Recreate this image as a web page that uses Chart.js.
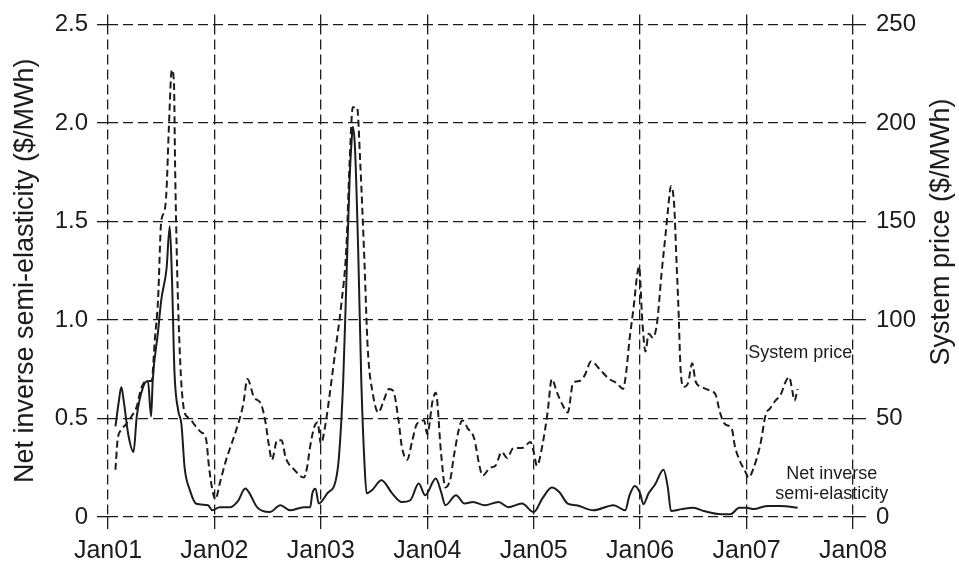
<!DOCTYPE html>
<html>
<head>
<meta charset="utf-8">
<script src="https://cdn.jsdelivr.net/npm/chart.js@4.4.1/dist/chart.umd.min.js"></script>
<style>
  body { margin: 0; background: #fff; }
  #chart { display: block; }
</style>
</head>
<body>
<canvas id="chart" width="959" height="569"></canvas>
<script>
// Tick labels
const yearTicks = [2001, 2002, 2003, 2004, 2005, 2006, 2007, 2008];
const leftTicks = [0, 0.5, 1.0, 1.5, 2.0, 2.5];
const rightTicks = [0, 50, 100, 150, 200, 250];

// System price ($/MWh)
const priceDates = [
    2001.07, 2001.09, 2001.12, 2001.17, 2001.22, 2001.27, 2001.31, 2001.36, 2001.41, 2001.44,
    2001.47, 2001.50, 2001.53, 2001.55, 2001.57, 2001.60, 2001.62, 2001.63, 2001.65, 2001.67,
    2001.69, 2001.72, 2001.77, 2001.81, 2001.875, 2001.92, 2001.95, 2001.98,
    2002.01, 2002.05, 2002.11, 2002.16, 2002.21, 2002.27, 2002.31, 2002.37, 2002.44, 2002.48,
    2002.51, 2002.54, 2002.59, 2002.63, 2002.67, 2002.75, 2002.84, 2002.87, 2002.90, 2002.94, 2002.97,
    2003.00, 2003.04, 2003.08, 2003.14, 2003.19, 2003.24, 2003.27, 2003.30, 2003.34, 2003.37,
    2003.41, 2003.44, 2003.49, 2003.54, 2003.59, 2003.64, 2003.68, 2003.73, 2003.76, 2003.81,
    2003.86, 2003.90, 2003.97,
    2004.00, 2004.05, 2004.08, 2004.13, 2004.17, 2004.22, 2004.25, 2004.33, 2004.38, 2004.44,
    2004.49, 2004.52, 2004.59, 2004.64, 2004.70, 2004.75, 2004.81, 2004.89, 2004.97,
    2005.00, 2005.03, 2005.08, 2005.13, 2005.17, 2005.22, 2005.27, 2005.32, 2005.37, 2005.43,
    2005.48, 2005.54, 2005.62, 2005.71, 2005.78, 2005.84, 2005.87, 2005.90, 2005.94, 2005.97, 2005.99,
    2006.02, 2006.05, 2006.08, 2006.12, 2006.16, 2006.20, 2006.24, 2006.26, 2006.29, 2006.32,
    2006.34, 2006.36, 2006.38, 2006.41, 2006.45, 2006.49, 2006.52, 2006.58, 2006.66, 2006.71,
    2006.75, 2006.80, 2006.86, 2006.89, 2006.94, 2006.98,
    2007.02, 2007.06, 2007.13, 2007.18, 2007.22, 2007.27, 2007.32, 2007.37, 2007.40, 2007.43,
    2007.45, 2007.48
];
const priceValues = [
    24, 39, 44, 47, 51, 56, 65, 69, 69, 90,
    110, 150, 155, 166, 195, 227, 220, 180, 125, 90,
    67, 53, 50, 47, 43, 40, 25, 14,
    9, 17, 29, 37, 45, 57, 70, 61, 57, 48,
    37, 29, 39, 39, 30, 24, 20, 25, 36, 46, 48,
    37, 46, 61, 86, 107, 137, 180, 208, 208, 180,
    129, 86, 62, 53, 59, 65, 64, 49, 36, 29,
    39, 47, 49,
    42, 59, 63, 32, 15, 20, 31, 49, 45, 40,
    26, 21, 25, 26, 33, 30, 35, 35, 38,
    33, 26, 36, 53, 70, 63, 57, 53, 68, 69,
    72, 79, 75, 70, 68, 65, 74, 90, 107, 122, 127,
    100, 84, 93, 91, 99, 123, 144, 155, 168, 158,
    132, 106, 75, 66, 68, 78, 69, 66, 64, 62,
    53, 47, 45, 36, 28, 24,
    20, 24, 37, 52, 55, 59, 62, 69, 71, 64,
    59, 65
];

// Net inverse semi-elasticity ($/MWh), solid curve
const elastDates = [
    2001.07, 2001.10, 2001.125, 2001.15, 2001.19, 2001.24, 2001.27, 2001.33, 2001.375, 2001.405,
    2001.42, 2001.47, 2001.50, 2001.55, 2001.58, 2001.60, 2001.625, 2001.66, 2001.69, 2001.72,
    2001.77, 2001.83, 2001.94, 2001.98,
    2002.05, 2002.15, 2002.22, 2002.29, 2002.33, 2002.40, 2002.52, 2002.62, 2002.71, 2002.84,
    2002.90, 2002.92, 2002.95, 2002.98,
    2003.06, 2003.14, 2003.17, 2003.21, 2003.24, 2003.27, 2003.29, 2003.30, 2003.32, 2003.35,
    2003.38, 2003.41, 2003.43, 2003.48, 2003.57, 2003.67, 2003.76, 2003.84, 2003.92, 2003.98,
    2004.08, 2004.13, 2004.17, 2004.27, 2004.35, 2004.43, 2004.54, 2004.67, 2004.76, 2004.89,
    2005.00, 2005.08, 2005.17, 2005.24, 2005.32, 2005.40, 2005.56, 2005.75, 2005.86, 2005.90, 2005.95,
    2006.00, 2006.03, 2006.08, 2006.14, 2006.22, 2006.26, 2006.29, 2006.39, 2006.50, 2006.60,
    2006.76, 2006.85, 2006.93,
    2007.00, 2007.07, 2007.19, 2007.32, 2007.48
];
const elastValues = [
    0.46, 0.58, 0.66, 0.58, 0.42, 0.33, 0.51, 0.66, 0.69, 0.51,
    0.69, 0.94, 1.10, 1.26, 1.475, 1.23, 0.73, 0.54, 0.47, 0.25,
    0.135, 0.067, 0.06, 0.034,
    0.05, 0.05, 0.08, 0.145, 0.12, 0.05, 0.025, 0.06, 0.034, 0.05,
    0.05, 0.12, 0.144, 0.068,
    0.12, 0.186, 0.305, 0.69, 1.20, 1.71, 1.92, 1.98, 1.88, 1.37,
    0.69, 0.27, 0.12, 0.136, 0.186, 0.12, 0.076, 0.085, 0.17, 0.11,
    0.195, 0.127, 0.06, 0.11, 0.068, 0.076, 0.06, 0.076, 0.05, 0.068,
    0.025, 0.093, 0.15, 0.127, 0.068, 0.06, 0.034, 0.06, 0.034, 0.11, 0.157,
    0.12, 0.065, 0.12, 0.165, 0.24, 0.15, 0.03, 0.04, 0.047, 0.03,
    0.014, 0.014, 0.047,
    0.047, 0.04, 0.056, 0.056, 0.047
];

const FONT = '"Liberation Sans", Arial, Helvetica, sans-serif';
const INK = '#1c1c1c';
const GRID_DASH = [10, 5];

function toPoints(xs, ys) {
    return xs.map((x, i) => ({ x: x, y: ys[i] }));
}

// texte libre : titre de droite (lu de bas en haut) et étiquettes des courbes
const textPlugin = {
    id: 'freeText',
    afterDraw(chart) {
        const ctx = chart.ctx;
        const x = chart.scales.x, y2 = chart.scales.y2;
        ctx.save();
        ctx.fillStyle = INK;

        ctx.font = '27px ' + FONT;
        ctx.textAlign = 'center';
        ctx.textBaseline = 'middle';
        ctx.translate(942, 232);
        ctx.rotate(-Math.PI / 2);
        ctx.fillText('System price ($/MWh)', 0, 0);
        ctx.setTransform(1, 0, 0, 1, 0, 0);

        ctx.font = '18px ' + FONT;
        ctx.textAlign = 'left';
        ctx.fillText('System price', x.getPixelForValue(2007.015), y2.getPixelForValue(83));
        ctx.textAlign = 'center';
        ctx.fillText('Net inverse', x.getPixelForValue(2007.8), y2.getPixelForValue(22));
        ctx.fillText('semi-elasticity', x.getPixelForValue(2007.8), y2.getPixelForValue(11.5));
        ctx.restore();
    }
};

new Chart(document.getElementById('chart'), {
    type: 'line',
    data: {
        datasets: [
            {
                label: 'System price',
                data: toPoints(priceDates, priceValues),
                yAxisID: 'y2',
                borderColor: INK,
                borderWidth: 2,
                borderDash: [7, 4],
                pointRadius: 0,
                cubicInterpolationMode: 'monotone',
                fill: false
            },
            {
                label: 'Net inverse semi-elasticity',
                data: toPoints(elastDates, elastValues),
                yAxisID: 'y',
                borderColor: INK,
                borderWidth: 2,
                pointRadius: 0,
                cubicInterpolationMode: 'monotone',
                fill: false
            }
        ]
    },
    options: {
        responsive: false,
        animation: false,
        devicePixelRatio: 1,
        layout: { padding: { top: 12, left: 0, right: 0, bottom: 0 } },
        plugins: {
            legend: { display: false },
            tooltip: { enabled: false }
        },
        scales: {
            x: {
                type: 'linear',
                position: 'bottom',
                min: yearTicks[0],
                max: yearTicks[yearTicks.length - 1],
                afterBuildTicks: s => { s.ticks = yearTicks.map(v => ({ value: v })); },
                afterFit: s => { s.height = 52; },
                border: { display: false, dash: GRID_DASH },
                grid: {
                    color: INK, lineWidth: 1.3,
                    tickLength: 12, tickColor: INK, tickBorderDash: []
                },
                ticks: {
                    color: INK, padding: 7, maxRotation: 0, autoSkip: false,
                    font: { family: FONT, size: 25 },
                    callback: v => 'Jan' + String(v).slice(2)
                }
            },
            xTop: {
                type: 'linear',
                position: 'top',
                min: yearTicks[0],
                max: yearTicks[yearTicks.length - 1],
                afterBuildTicks: s => { s.ticks = yearTicks.map(v => ({ value: v })); },
                border: { display: false },
                grid: { drawOnChartArea: false, tickLength: 10, color: INK, lineWidth: 1.3, tickBorderDash: [] },
                ticks: { display: false }
            },
            y: {
                position: 'left',
                min: 0,
                max: 2.5,
                afterBuildTicks: s => { s.ticks = leftTicks.map(v => ({ value: v })); },
                afterFit: s => { s.width = 108; },
                border: { display: false, dash: GRID_DASH },
                grid: {
                    color: INK, lineWidth: 1.3,
                    tickLength: 11, tickColor: INK, tickBorderDash: []
                },
                ticks: {
                    color: INK, padding: 9,
                    font: { family: FONT, size: 24 },
                    callback: v => v === 0 ? '0' : v.toFixed(1)
                },
                title: {
                    display: true,
                    text: 'Net inverse semi-elasticity ($/MWh)',
                    color: INK,
                    padding: { top: 9, bottom: 0 },
                    font: { family: FONT, size: 27 }
                }
            },
            y2: {
                position: 'right',
                min: 0,
                max: 250,
                afterBuildTicks: s => { s.ticks = rightTicks.map(v => ({ value: v })); },
                afterFit: s => { s.width = 106; },
                border: { display: false },
                grid: { drawOnChartArea: false, tickLength: 13, color: INK, lineWidth: 1.3, tickBorderDash: [] },
                ticks: {
                    color: INK, padding: 10,
                    font: { family: FONT, size: 24 }
                }
            }
        }
    },
    plugins: [textPlugin]
});
</script>
</body>
</html>
